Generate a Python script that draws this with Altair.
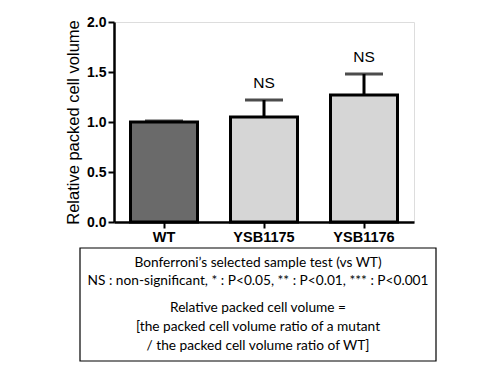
import altair as alt
import pandas as pd

categories = ["WT", "YSB1175", "YSB1176"]
means = [1.00, 1.05, 1.27]
sem = [0.01, 0.17, 0.21]
sig = ["", "NS", "NS"]
fills = ["#6a6a6a", "#d6d6d6", "#d6d6d6"]
y_ticks = [0.0, 0.5, 1.0, 1.5, 2.0]

note_lines = [
    "Bonferroni\u2019s selected sample test (vs WT)",
    "NS : non-significant, * : P<0.05, ** : P<0.01, *** : P<0.001",
    "Relative packed cell volume =",
    "[the packed cell volume ratio of a mutant",
    "/ the packed cell volume ratio of WT]",
]
note_y = [241, 259, 286, 305, 324]

df = pd.DataFrame({
    "cat": categories,
    "mean": means,
    "upper": [m + s for m, s in zip(means, sem)],
    "sig": sig,
    "fill": fills,
})
notes = pd.DataFrame({"line": note_lines, "ypos": note_y})

FONT = "Liberation Sans"

x = alt.X("cat:N", sort=None, title=None,
          scale=alt.Scale(paddingInner=0.33, paddingOuter=0.165),
          axis=alt.Axis(labelAngle=0, labelFont=FONT, labelFontSize=14.5,
                        labelFontWeight="bold", labelColor="black",
                        domainColor="black", domainWidth=2.5,
                        tickColor="black", tickWidth=2, tickSize=6,
                        labelPadding=2))
y = alt.Y("mean:Q", title="Relative packed cell volume",
          scale=alt.Scale(domain=[0, 2.0], nice=False),
          axis=alt.Axis(values=y_ticks, format=".1f", labelFont=FONT,
                        labelFontSize=14, labelFontWeight="bold",
                        labelColor="black", domainColor="black",
                        domainWidth=2.5, tickColor="black", tickWidth=2,
                        tickSize=6, labelPadding=2, grid=False,
                        titleFont=FONT, titleFontSize=16.5,
                        titleFontWeight="normal", titleColor="black",
                        titlePadding=5))

base = alt.Chart(df)

bars = base.mark_bar(stroke="black", strokeWidth=3).encode(
    x=x, y=y, fill=alt.Fill("fill:N", scale=None))

err = base.mark_rule(color="black", strokeWidth=3).encode(
    x=alt.X("cat:N", sort=None), y="mean:Q", y2="upper:Q")

caps = base.mark_tick(color="black", thickness=3, size=38, orient="horizontal").encode(
    x=alt.X("cat:N", sort=None), y="upper:Q")

labels = base.mark_text(font=FONT, fontSize=15.5, color="black", baseline="bottom", dy=-9).encode(
    x=alt.X("cat:N", sort=None), y="upper:Q", text="sig:N")

box = alt.Chart(pd.DataFrame({"a": [0]})).mark_rect(
    fillOpacity=0, stroke="black", strokeWidth=1.2).encode(
    x=alt.value(-34), x2=alt.value(322), y=alt.value(226), y2=alt.value(339))

note_text = alt.Chart(notes).mark_text(
    font="Lato", fontSize=13.7, color="black", align="center", baseline="middle").encode(
    x=alt.value(144), y=alt.Y("ypos:Q", scale=None, axis=None),
    text="line:N")

chart = alt.layer(bars, err, caps, labels, box, note_text).properties(
    width=300, height=200,
    autosize=alt.AutoSizeParams(type="none"),
    padding={"left": 106, "top": 14, "right": 58, "bottom": 140},
).configure_view(stroke=None).configure(background="white")

chart.save("out.html", embed_options={"renderer": "svg", "actions": False})
